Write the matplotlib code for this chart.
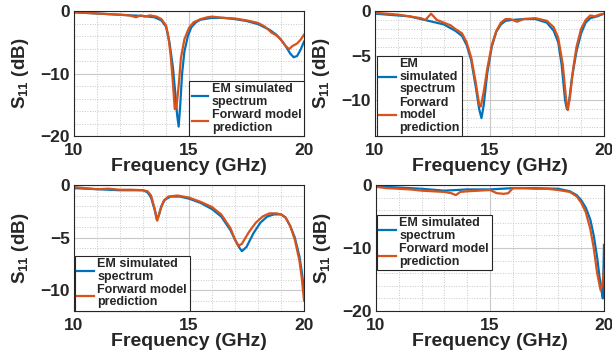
import matplotlib
matplotlib.use("Agg")
import matplotlib.pyplot as plt
from matplotlib.ticker import MultipleLocator

plt.rcParams['font.family'] = ['Liberation Sans', 'DejaVu Sans']
plt.rcParams['font.weight'] = 'bold'
plt.rcParams['mathtext.fontset'] = 'custom'
plt.rcParams['mathtext.rm'] = 'Liberation Sans:bold'
plt.rcParams['mathtext.bf'] = 'Liberation Sans:bold'
plt.rcParams['mathtext.it'] = 'Liberation Sans:bold'

# ---------------- data ----------------
labels_wide = ["EM simulated\nspectrum", "Forward model\nprediction"]
labels_narrow = ["EM\nsimulated\nspectrum", "Forward\nmodel\nprediction"]
x_ticks = [10, 15, 20]

# Panel 1
p1_em_f = [10.0, 10.5, 11.0, 11.5, 12.0, 12.5, 13.0, 13.5, 13.8, 14.0, 14.15, 14.3, 14.4, 14.48, 14.55,
           14.62, 14.7, 14.8, 14.95, 15.1, 15.3, 15.5, 15.8, 16.0, 16.5, 17.0, 17.5, 18.0, 18.5, 18.8,
           19.0, 19.2, 19.4, 19.55, 19.7, 19.85, 20.0]
p1_em_v = [-0.2, -0.3, -0.4, -0.5, -0.6, -0.7, -0.8, -1.0, -1.5, -2.5, -5, -9, -13, -16.5, -18.5,
           -15, -10, -6.5, -4, -2.6, -1.8, -1.4, -1.2, -1.1, -1.1, -1.3, -1.6, -2.1, -3.0, -3.8,
           -4.6, -5.6, -6.8, -7.4, -7.2, -6.2, -4.9]
p1_fm_f = [10.0, 10.5, 11.0, 11.5, 12.0, 12.4, 12.7, 12.9, 13.1, 13.3, 13.6, 13.8, 14.0, 14.1, 14.2,
           14.3, 14.38, 14.45, 14.55, 14.65, 14.8, 15.0, 15.2, 15.5, 15.8, 16.0, 16.5, 17.0, 17.5,
           18.0, 18.3, 18.6, 18.8, 19.0, 19.2, 19.35, 19.5, 19.7, 19.85, 20.0]
p1_fm_v = [-0.2, -0.3, -0.4, -0.5, -0.6, -0.7, -1.0, -0.7, -0.9, -0.7, -0.9, -1.3, -2.3, -4, -7,
           -11.5, -15.7, -15.5, -12, -7.5, -4.5, -2.7, -1.8, -1.3, -1.0, -0.9, -1.1, -1.2, -1.5,
           -1.9, -2.5, -3.5, -3.9, -4.6, -5.6, -6.1, -5.6, -5.2, -4.6, -3.8]

# Panel 2
p2_em_f = [10.0, 10.5, 11.0, 11.5, 12.0, 12.5, 13.0, 13.5, 13.8, 14.0, 14.2, 14.4, 14.55, 14.65, 14.75,
           14.9, 15.1, 15.3, 15.5, 15.7, 16.0, 16.5, 17.0, 17.5, 17.8, 18.0, 18.15, 18.3, 18.38, 18.48,
           18.6, 18.8, 19.0, 19.2, 19.4, 19.7, 20.0]
p2_em_v = [-0.3, -0.4, -0.5, -0.6, -0.9, -1.2, -1.5, -2.2, -2.8, -3.8, -5.5, -8.5, -11, -12, -10.5,
           -7, -4, -2.3, -1.5, -1.1, -1.0, -0.9, -0.9, -1.3, -2.2, -3.5, -6, -10, -11, -10,
           -7.5, -4.5, -2.5, -1.3, -0.8, -0.6, -0.3]
p2_fm_f = [10.0, 10.5, 11.0, 11.5, 12.0, 12.2, 12.45, 12.7, 13.0, 13.3, 13.5, 13.8, 14.0, 14.2, 14.4,
           14.55, 14.62, 14.75, 14.9, 15.1, 15.3, 15.5, 15.7, 15.9, 16.2, 16.5, 17.0, 17.5, 17.8, 18.0,
           18.2, 18.35, 18.42, 18.52, 18.65, 18.8, 19.0, 19.2, 19.4, 19.6, 19.8, 20.0]
p2_fm_v = [-0.2, -0.3, -0.4, -0.6, -0.8, -1.0, -0.3, -1.0, -1.3, -1.6, -2.0, -2.5, -3.5, -5.2, -8,
           -10.5, -10.7, -9, -6.5, -3.8, -2.2, -1.3, -0.9, -0.9, -1.2, -0.9, -0.8, -1.1, -1.8, -3,
           -6, -10, -11.1, -9.5, -6.5, -4, -2, -1.0, -0.5, -0.6, -0.4, -0.3]

# Panel 3
p3_em_f = [10.0, 10.5, 11.0, 11.5, 12.0, 12.5, 13.0, 13.2, 13.35, 13.5, 13.6, 13.7, 13.8, 13.95, 14.2,
           14.6, 15.0, 15.5, 16.0, 16.4, 16.8, 17.0, 17.2, 17.3, 17.5, 17.8, 18.1, 18.4, 18.7, 19.0,
           19.2, 19.4, 19.6, 19.8, 19.9, 20.0]
p3_em_v = [-0.3, -0.35, -0.4, -0.45, -0.5, -0.5, -0.5, -0.7, -1.2, -2.3, -3.3, -2.8, -2.0, -1.4, -1.1,
           -1.1, -1.3, -1.7, -2.3, -3.0, -4.3, -5.2, -6.0, -6.3, -5.9, -4.6, -3.6, -3.0, -2.8, -2.8,
           -3.1, -3.9, -5.0, -6.8, -8.2, -10.0]
p3_fm_f = [10.0, 10.5, 11.0, 11.5, 12.0, 12.5, 13.0, 13.2, 13.35, 13.5, 13.62, 13.75, 13.9, 14.1, 14.5,
           15.0, 15.5, 16.0, 16.4, 16.8, 17.0, 17.14, 17.3, 17.6, 17.9, 18.2, 18.5, 18.8, 19.0, 19.2,
           19.4, 19.6, 19.8, 19.9, 20.0]
p3_fm_v = [-0.2, -0.3, -0.4, -0.35, -0.45, -0.45, -0.5, -0.6, -1.0, -2.2, -3.4, -2.4, -1.5, -1.1, -1.0,
           -1.2, -1.6, -2.1, -2.8, -4.1, -5.2, -5.8, -5.6, -4.5, -3.6, -3.0, -2.7, -2.7, -2.8, -3.1,
           -3.9, -5.2, -7.2, -8.8, -11.0]

# Panel 4
p4_em_f = [10.0, 11.0, 12.0, 13.0, 13.5, 14.0, 15.0, 15.5, 16.0, 17.0, 18.0, 18.5, 18.8, 19.0, 19.2,
           19.4, 19.55, 19.7, 19.8, 19.9, 19.95, 20.0]
p4_em_v = [-0.2, -0.4, -0.6, -0.9, -0.8, -0.7, -0.7, -0.6, -0.5, -0.5, -0.6, -1.0, -1.6, -2.4, -3.6,
           -5.5, -8, -11.5, -14.5, -17, -18, -9.5]
p4_fm_f = [10.0, 10.5, 11.0, 11.5, 12.0, 12.5, 13.0, 13.3, 13.5, 13.7, 14.0, 14.5, 15.0, 15.3, 15.6,
           15.8, 16.0, 16.5, 17.0, 17.5, 18.0, 18.5, 18.8, 19.0, 19.2, 19.4, 19.55, 19.7, 19.85, 19.92, 20.0]
p4_fm_v = [-0.3, -0.5, -0.6, -0.7, -0.9, -1.0, -1.1, -1.3, -1.6, -1.1, -1.0, -0.9, -0.8, -1.3, -1.4,
           -1.3, -0.5, -0.5, -0.6, -0.6, -0.8, -1.1, -1.8, -2.8, -4.3, -7, -10, -14, -16.7, -16, -13.5]

panels = [
    dict(pos=[74, 11, 230, 125], em=(p1_em_f, p1_em_v), fm=(p1_fm_f, p1_fm_v), ylim=(-20, 0),
         yticks=[-20, -10, 0], ymin=2, labels=labels_wide, loc='lower right', anchor=(1.0, 0.0)),
    dict(pos=[375, 11, 229, 125], em=(p2_em_f, p2_em_v), fm=(p2_fm_f, p2_fm_v), ylim=(-14, 0),
         yticks=[-10, -5, 0], ymin=1, labels=labels_narrow, loc='lower left', anchor=(0.008, 0.0)),
    dict(pos=[74, 185, 230, 126], em=(p3_em_f, p3_em_v), fm=(p3_fm_f, p3_fm_v), ylim=(-12, 0),
         yticks=[-10, -5, 0], ymin=1, labels=labels_wide, loc='lower left', anchor=(0.004, 0.0)),
    dict(pos=[376, 185, 228, 126], em=(p4_em_f, p4_em_v), fm=(p4_fm_f, p4_fm_v), ylim=(-20, 0),
         yticks=[-20, -10, 0], ymin=2, labels=labels_wide, loc='upper left', anchor=(0.004, 0.762)),
]

W, H = 612, 356
fig = plt.figure(figsize=(W / 100, H / 100), dpi=100)
txt = '#262626'
blue = '#0072BD'
orange = '#D95319'

for p in panels:
    l, t, w, h = p['pos']
    ax = fig.add_axes([l / W, 1 - (t + h) / H, w / W, h / H])
    ax.plot(p['em'][0], p['em'][1], color=blue, lw=1.6, label=p['labels'][0])
    ax.plot(p['fm'][0], p['fm'][1], color=orange, lw=1.6, label=p['labels'][1])
    ax.set_xlim(10, 20)
    ax.set_ylim(*p['ylim'])
    ax.set_xticks(x_ticks)
    ax.set_yticks(p['yticks'])
    ax.xaxis.set_minor_locator(MultipleLocator(1))
    ax.yaxis.set_minor_locator(MultipleLocator(p['ymin']))
    ax.grid(which='major', color='#c8c8c8', lw=0.8, ls='-')
    ax.grid(which='minor', color='#c8c8c8', lw=0.7, ls=':')
    ax.set_axisbelow(True)
    ax.tick_params(which='both', direction='in', length=0, labelsize=12.5, colors=txt)
    ax.tick_params(axis='x', pad=5)
    ax.tick_params(axis='y', pad=3)
    for lab in ax.get_xticklabels() + ax.get_yticklabels():
        lab.set_fontweight('bold')
    for s in ax.spines.values():
        s.set_color(txt)
        s.set_linewidth(0.8)
    ax.set_xlabel('Frequency (GHz)', fontsize=14, fontweight='bold', color=txt, labelpad=0)
    ax.set_ylabel(r'$\mathregular{S_{11}}$ (dB)', fontsize=13.5, fontweight='bold', color=txt, labelpad=7)
    leg = ax.legend(loc=p['loc'], bbox_to_anchor=p['anchor'], borderaxespad=0.0, fancybox=False,
                    edgecolor=txt, framealpha=1, prop=dict(size=9, weight='bold'),
                    handlelength=1.3, handletextpad=0.3, borderpad=0.2, labelspacing=0.1)
    leg.get_frame().set_linewidth(0.8)
    for tx in leg.get_texts():
        tx.set_color(txt)
        tx.set_linespacing(1.05)

fig.savefig('out.png', dpi=100)
